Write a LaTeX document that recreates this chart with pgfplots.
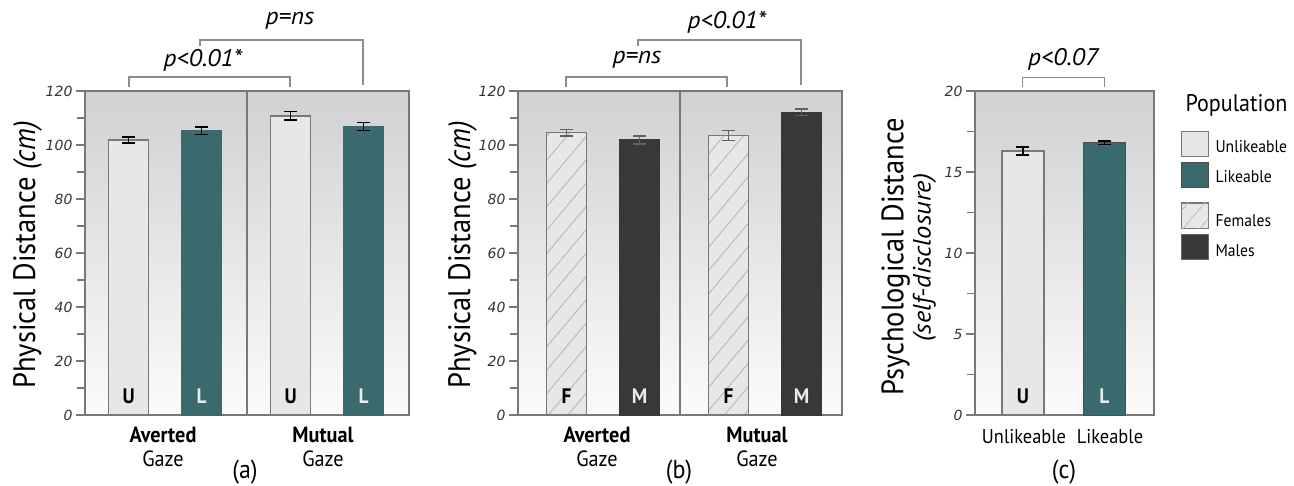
\documentclass[border=0pt]{standalone}
\usepackage{fontspec}
\setmainfont{PT Sans}[FakeStretch=0.92]
\newfontfamily\wideit{PT Sans Italic}[FakeStretch=1.06]
\newfontfamily\tickfont{DejaVu Sans}
\usepackage{pgfplots}
\pgfplotsset{compat=1.18}
\usetikzlibrary{patterns.meta}
\definecolor{bgtop}{RGB}{208,209,211}
\definecolor{bgbot}{RGB}{251,251,251}
\definecolor{unl}{RGB}{230,231,233}
\definecolor{lik}{RGB}{58,105,110}
\definecolor{mal}{RGB}{56,56,58}
\definecolor{frm}{RGB}{120,120,120}
\definecolor{brk}{RGB}{140,140,140}
\pgfplotsset{
  panel/.style={
    scale only axis, height=324pt, ymin=0,
    axis background/.style={top color=bgtop, bottom color=bgbot},
    axis line style={frm, line width=2pt},
    xtick=\empty, ytick pos=left, tick align=outside,
    major tick length=9pt, minor tick length=8pt,
    tick style={frm, line width=1.3pt},
    yticklabel style={font=\tickfont\itshape\fontsize{14}{14}\selectfont, text=black!80},
    /pgf/number format/assume math mode=true,
    ybar, bar width=40pt, bar shift=0pt, clip=false,
  },
  ebar/.style={error bars/.cd, y dir=both, y explicit,
    error bar style={line width=1.4pt, #1, solid},
    error mark options={rotate=90, mark size=6.5pt, line width=1.4pt, #1, solid}},
}
\newcommand{\sig}{\wideit\fontsize{24}{24}\selectfont}
\newcommand{\ylab}{\fontsize{31}{31}\selectfont}
\newcommand{\xl}{\fontsize{22}{22}\selectfont}
\newcommand{\pl}{\fontsize{26}{26}\selectfont}
\newcommand{\bl}{\bfseries\fontsize{21}{21}\selectfont}
\begin{document}
\begin{tikzpicture}[x=1pt,y=1pt]
\useasboundingbox (0,0) rectangle (1294,485);

% ---------- panel (a)
\begin{axis}[panel, at={(85pt,70pt)}, anchor=south west, width=324pt,
  xmin=0, xmax=4, ymax=120, ytick={0,20,...,120}, minor ytick={10,30,...,110}]
\addplot[fill=unl, draw=frm, line width=1.5pt, ebar=black] coordinates {(0.54,101.8) +- (0,1.1) (2.54,110.8) +- (0,1.5)};
\addplot[fill=lik, draw=lik, line width=1pt, ebar=black] coordinates {(1.44,105.3) +- (0,1.4) (3.44,106.9) +- (0,1.5)};
\draw[frm, line width=1.5pt] (axis cs:2,0) -- (axis cs:2,120);
\node[anchor=base, yshift=11pt, font=\bl] at (axis cs:0.54,0) {U};
\node[anchor=base, yshift=11pt, font=\bl, text=white!88!lik] at (axis cs:1.44,0) {L};
\node[anchor=base, yshift=11pt, font=\bl] at (axis cs:2.54,0) {U};
\node[anchor=base, yshift=11pt, font=\bl, text=white!88!lik] at (axis cs:3.44,0) {L};
\end{axis}
\node[rotate=90, anchor=base, font=\ylab] at (35,230) {Physical Distance \textit{(cm)}};
\node[anchor=base, font=\xl\bfseries] at (163,42.3) {Averted};
\node[anchor=base, font=\xl] at (163,19) {Gaze};
\node[anchor=base, font=\xl\bfseries] at (323,42.3) {Mutual};
\node[anchor=base, font=\xl] at (323,19) {Gaze};
\node[anchor=base, font=\pl] at (245,6) {(a)};
\draw[brk, line width=1.3pt] (129,398) -- (129,408) -- (290,408) -- (290,398);
\draw[brk, line width=1.3pt] (200,439) -- (200,445) -- (363,445) -- (363,400);
\node[font=\sig] at (203,425) {p<0.01*};
\node[font=\sig] at (290,464) {p=ns};

% ---------- panel (b)
\begin{axis}[panel, at={(518pt,70pt)}, anchor=south west, width=324pt,
  xmin=0, xmax=4, ymax=120, ytick={0,20,...,120}, minor ytick={10,30,...,110}]
\addplot[fill=unl, draw=frm, line width=1.5pt,
  postaction={pattern={Lines[angle=50,distance=15pt,line width=0.9pt]}, pattern color=black!28},
  ebar=black!62] coordinates {(0.6,104.6) +- (0,1.2) (2.6,103.5) +- (0,1.8)};
\addplot[fill=mal, draw=mal, line width=1pt, ebar=black!62] coordinates {(1.5,101.9) +- (0,1.5) (3.5,112.2) +- (0,1.2)};
\draw[frm, line width=1.5pt] (axis cs:2,0) -- (axis cs:2,120);
\node[anchor=base, yshift=11pt, font=\bl] at (axis cs:0.6,0) {F};
\node[anchor=base, yshift=11pt, font=\bl, text=white!92!black] at (axis cs:1.5,0) {M};
\node[anchor=base, yshift=11pt, font=\bl] at (axis cs:2.6,0) {F};
\node[anchor=base, yshift=11pt, font=\bl, text=white!92!black] at (axis cs:3.5,0) {M};
\end{axis}
\node[rotate=90, anchor=base, font=\ylab] at (470,230) {Physical Distance \textit{(cm)}};
\node[anchor=base, font=\xl\bfseries] at (597,42.3) {Averted};
\node[anchor=base, font=\xl] at (597,19) {Gaze};
\node[anchor=base, font=\xl\bfseries] at (757,42.3) {Mutual};
\node[anchor=base, font=\xl] at (757,19) {Gaze};
\node[anchor=base, font=\pl] at (679,6) {(b)};
\draw[brk, line width=1.3pt] (566,398) -- (566,408) -- (727,408) -- (727,398);
\draw[brk, line width=1.3pt] (638,439) -- (638,445) -- (801,445) -- (801,400);
\node[font=\sig] at (637,425) {p=ns};
\node[font=\sig] at (727,463) {p<0.01*};

% ---------- panel (c)
\begin{axis}[panel, at={(975pt,70pt)}, anchor=south west, width=178.7pt, bar width=42pt,
  xmin=0, xmax=2, ymax=20, ytick={0,5,...,20}, minor ytick={2.5,7.5,12.5,17.5}]
\addplot[fill=unl, draw=frm, line width=1.5pt, ebar=black] coordinates {(0.535,16.3) +- (0,0.25)};
\addplot[fill=lik, draw=black!70, line width=1pt, ebar=black] coordinates {(1.447,16.8) +- (0,0.12)};
\node[anchor=base, yshift=11pt, font=\bl] at (axis cs:0.535,0) {U};
\node[anchor=base, yshift=11pt, font=\bl, text=white!88!lik] at (axis cs:1.447,0) {L};
\end{axis}
\node[rotate=90, anchor=base, font=\ylab] at (903.3,228.3) {Psychological Distance};
\node[rotate=90, anchor=base, font=\wideit\fontsize{25}{25}\selectfont] at (930.7,227.5) {(self-disclosure)};
\node[anchor=base, font=\fontsize{20}{20}\selectfont] at (1024,41.7) {Unlikeable};
\node[anchor=base, font=\fontsize{20}{20}\selectfont] at (1110,41.7) {Likeable};
\node[anchor=base, font=\pl] at (1064,7) {(c)};
\draw[brk, line width=1.3pt] (1022.7,397.7) -- (1022.7,407.7) -- (1104.3,407.7) -- (1104.3,397.7);
\node[font=\sig] at (1063.3,425.7) {p<0.07};

% ---------- legend
\node[font=\fontsize{24}{24}\selectfont] at (1236.5,380) {Population};
\draw[frm, line width=1.3pt, fill=unl] (1181.7,328.3) rectangle (1208.3,353.3);
\draw[black!70, line width=1pt, fill=lik] (1181.7,297.7) rectangle (1208.3,322.3);
\draw[frm, line width=1.3pt, fill=unl, postaction={pattern={Lines[angle=50,distance=13pt,line width=0.9pt]}, pattern color=black!28}] (1181.7,256.3) rectangle (1208.3,282);
\draw[black!60, line width=1pt, fill=mal] (1181.7,225.7) rectangle (1208.3,250);
\node[anchor=west, font=\fontsize{17}{17}\selectfont] at (1212,338.3) {Unlikeable};
\node[anchor=west, font=\fontsize{17}{17}\selectfont] at (1212,308.3) {Likeable};
\node[anchor=west, font=\fontsize{17}{17}\selectfont] at (1212,264) {Females};
\node[anchor=west, font=\fontsize{17}{17}\selectfont] at (1212,234.3) {Males};
\end{tikzpicture}
\end{document}
